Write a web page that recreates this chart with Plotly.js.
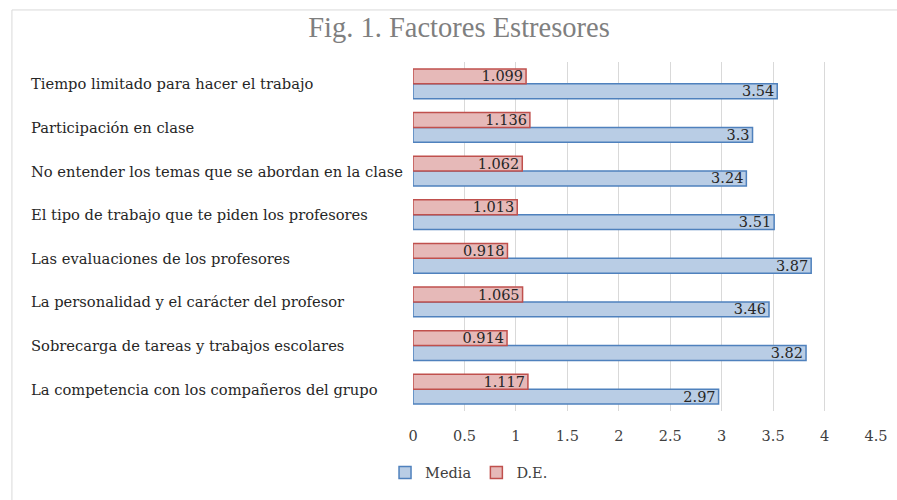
<!DOCTYPE html>
<html>
<head>
<meta charset="utf-8">
<script src="https://cdn.plot.ly/plotly-3.0.1.min.js"></script>
<style>html,body{margin:0;padding:0;background:#fff;}#chart{width:897px;height:500px;}</style>
</head>
<body>
<div id="chart"></div>
<script>
// Categories listed top to bottom as in the picture
const categories = [
  "Tiempo limitado para hacer el trabajo",
  "Participación en clase",
  "No entender los temas que se abordan en la clase",
  "El tipo de trabajo que te piden los profesores",
  "Las evaluaciones de los profesores",
  "La personalidad y el carácter del profesor",
  "Sobrecarga de tareas y trabajos escolares",
  "La competencia con los compañeros del grupo"
];
const media = [3.54, 3.3, 3.24, 3.51, 3.87, 3.46, 3.82, 2.97];
const de = [1.099, 1.136, 1.062, 1.013, 0.918, 1.065, 0.914, 1.117];
const xTicks = [0, 0.5, 1, 1.5, 2, 2.5, 3, 3.5, 4, 4.5];

// bottom-to-top order for plotting
const cats = categories.slice().reverse();
const mediaR = media.slice().reverse();
const deR = de.slice().reverse();

const FONT = "DejaVu Serif, Liberation Serif, serif";
const textFont = {family: FONT, size: 14.5, color: "#262626"};

const traces = [
  {
    type: "bar", orientation: "h", name: "Media",
    y: cats, x: mediaR, text: mediaR.map(String),
    textposition: "inside", insidetextanchor: "end", constraintext: "none",
    textfont: textFont, insidetextfont: textFont,
    marker: {color: "#b9cde5", line: {color: "#4f81bd", width: 1.5}},
    hoverinfo: "none"
  },
  {
    type: "bar", orientation: "h", name: "D.E.",
    y: cats, x: deR, text: deR.map(String),
    textposition: "inside", insidetextanchor: "end", constraintext: "none",
    textfont: textFont, insidetextfont: textFont,
    marker: {color: "#e6b9b8", line: {color: "#c0504d", width: 1.5}},
    hoverinfo: "none"
  }
];

const L = 413, R = 876.5, T = 62, B = 414, W = 897, H = 500;
const pw = R - L, ph = B - T;
const px2x = p => (p - L) / pw;
const py2y = p => (B - p) / ph;

const annotations = categories.map(c => ({
  text: c, xref: "paper", yref: "y", x: px2x(29), y: c,
  xanchor: "left", yanchor: "middle", showarrow: false,
  font: {family: FONT, size: 14.7, color: "#262626"}
}));

const layout = {
  width: W, height: H,
  margin: {l: L, r: W - R, t: T, b: H - B, pad: 0},
  paper_bgcolor: "#ffffff", plot_bgcolor: "#ffffff",
  title: {
    text: "Fig. 1. Factores Estresores",
    font: {family: "Liberation Serif, serif", size: 28.5, color: "#7f7f7f"},
    x: 459 / W, xanchor: "center", y: 1 - 27 / H, yanchor: "middle"
  },
  barmode: "group", bargap: 0.32, bargroupgap: 0,
  xaxis: {
    range: [0, 4.5], tickvals: xTicks, ticktext: xTicks.map(String),
    showgrid: true, gridcolor: "#d9d9d9", gridwidth: 1,
    zeroline: false, showline: false, ticks: "",
    ticklabelstandoff: 14,
    tickfont: {family: FONT, size: 14.5, color: "#404040"},
    fixedrange: true
  },
  yaxis: {
    type: "category", categoryorder: "array", categoryarray: cats,
    showticklabels: false, showgrid: false, zeroline: false, showline: false, ticks: "",
    fixedrange: true
  },
  showlegend: true,
  legend: {
    orientation: "h", x: px2x(385), xanchor: "left", y: py2y(476), yanchor: "middle",
    font: {family: FONT, size: 14.5, color: "#404040"},
    traceorder: "normal", itemwidth: 30, bgcolor: "rgba(0,0,0,0)"
  },
  annotations: annotations,
  shapes: [{
    type: "rect", xref: "paper", yref: "paper",
    x0: px2x(11.5), x1: px2x(W + 20), y0: py2y(H + 20), y1: py2y(9.5),
    line: {color: "#d9d9d9", width: 1}, fillcolor: "rgba(0,0,0,0)", layer: "below"
  }]
};

Plotly.newPlot("chart", traces, layout, {displayModeBar: false, staticPlot: true});
</script>
</body>
</html>
